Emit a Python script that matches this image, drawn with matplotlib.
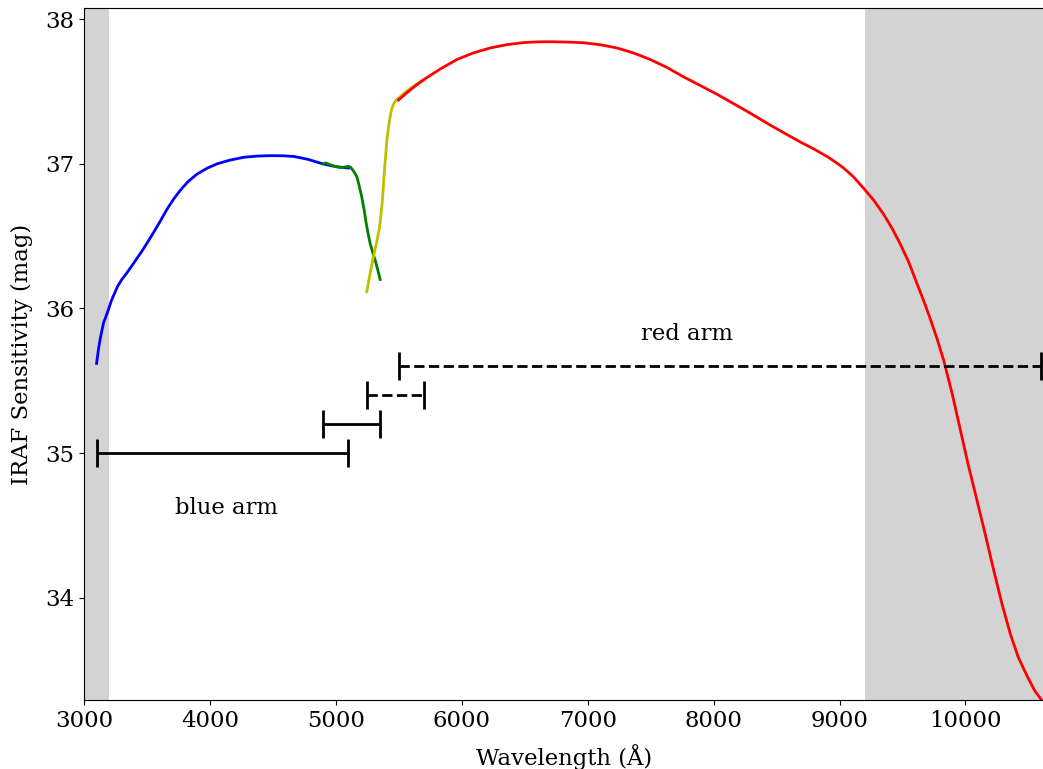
import numpy as np
import matplotlib
matplotlib.use('Agg')
import matplotlib.pyplot as plt

plt.rcParams['font.family'] = 'DejaVu Serif'
plt.rcParams['font.size'] = 16.4

# curvas de sensitividad (longitud de onda, magnitud)
azul_w = [3100, 3115, 3132, 3155, 3185, 3220, 3265, 3300, 3344, 3400, 3463, 3510, 3556, 3610, 3662, 3715,
          3768, 3830, 3900, 3980, 4059, 4160, 4271, 4380, 4483, 4580, 4669, 4780, 4893, 4970, 5040, 5100]
azul_m = [35.62, 35.72, 35.805, 35.9, 35.97, 36.06, 36.15, 36.2, 36.25, 36.32, 36.40, 36.465, 36.53, 36.61, 36.69, 36.76,
          36.82, 36.88, 36.93, 36.97, 37.00, 37.025, 37.045, 37.053, 37.056, 37.055, 37.05, 37.03, 37.0, 36.985, 36.976, 36.97]

verde_w = [4900, 4920, 4950, 4981, 5015, 5047, 5075, 5100, 5118, 5140, 5167, 5185, 5206, 5225, 5241, 5258,
           5272, 5292, 5312, 5332, 5352]
verde_m = [37.0, 37.005, 36.995, 36.985, 36.977, 36.973, 36.978, 36.982, 36.975, 36.95, 36.91, 36.85, 36.77, 36.68, 36.59, 36.51,
           36.45, 36.39, 36.335, 36.27, 36.20]

amarillo_w = [5246, 5272, 5299, 5325, 5346, 5356, 5365, 5374, 5384, 5395, 5405, 5418, 5432, 5445, 5460, 5480,
              5500, 5560, 5640, 5700]
amarillo_m = [36.116, 36.24, 36.36, 36.46, 36.555, 36.63, 36.70, 36.80, 36.93, 37.05, 37.16, 37.25, 37.33, 37.38, 37.415, 37.44,
              37.455, 37.50, 37.55, 37.58]

rojo_w = [5497, 5550, 5620, 5696, 5830, 5961, 6090, 6226, 6360, 6490, 6600, 6703, 6830, 6967, 7100, 7232,
          7365, 7497, 7630, 7762, 7895, 8027, 8159, 8290, 8424, 8555, 8689, 8800, 8901, 8970, 9033, 9110,
          9192, 9270, 9351, 9420, 9480, 9550, 9616, 9670, 9720, 9775, 9828, 9895, 9960, 10025, 10093, 10160,
          10225, 10290, 10357, 10420, 10490, 10550, 10600]
rojo_m = [37.44, 37.48, 37.53, 37.58, 37.655, 37.72, 37.765, 37.80, 37.823, 37.837, 37.842, 37.843, 37.841, 37.836, 37.822, 37.80,
          37.765, 37.72, 37.665, 37.60, 37.54, 37.48, 37.415, 37.35, 37.28, 37.215, 37.15, 37.10, 37.05, 37.01, 36.97, 36.91,
          36.83, 36.75, 36.65, 36.55, 36.45, 36.32, 36.17, 36.05, 35.93, 35.79, 35.64, 35.41, 35.16, 34.91, 34.67, 34.43,
          34.19, 33.96, 33.75, 33.59, 33.46, 33.36, 33.30]

# rangos de los brazos (inicio, fin, altura, estilo)
rango_ini = [3100, 4900, 5250, 5500]
rango_fin = [5100, 5350, 5700, 10600]
rango_y = [35.0, 35.2, 35.4, 35.6]
rango_ls = ['-', '-', '--', '--']

fig = plt.figure(figsize=(10.43, 7.69), dpi=100)
ax = fig.add_axes([84 / 1043, 69 / 769, 959.5 / 1043, 692 / 769])

# zonas fuera del rango util
ax.axvspan(3000, 3200, color='lightgray', zorder=0, lw=0)
ax.axvspan(9200, 10700, color='lightgray', zorder=0, lw=0)

ax.plot(azul_w, azul_m, color='blue', lw=2)
ax.plot(verde_w, verde_m, color='green', lw=2)
ax.plot(amarillo_w, amarillo_m, color='y', lw=2)
ax.plot(rojo_w, rojo_m, color='red', lw=2)

for a, b, y, ls in zip(rango_ini, rango_fin, rango_y, rango_ls):
    eb = ax.errorbar([(a + b) / 2], [y], xerr=[(b - a) / 2], fmt='none', ecolor='black',
                     elinewidth=2, capsize=10, capthick=2)
    eb[2][0].set_linestyle(ls)

ax.text(3720, 34.58, 'blue arm')
ax.text(7420, 35.78, 'red arm')

ax.set_xlim(3000, 10620)
ax.set_ylim(33.295, 38.076)
ax.set_yticks([34, 35, 36, 37, 38])
ax.set_xlabel('Wavelength (Å)', labelpad=9)
ax.set_ylabel('IRAF Sensitivity (mag)', labelpad=9)

plt.savefig('out.png', dpi=100)
plt.close()
